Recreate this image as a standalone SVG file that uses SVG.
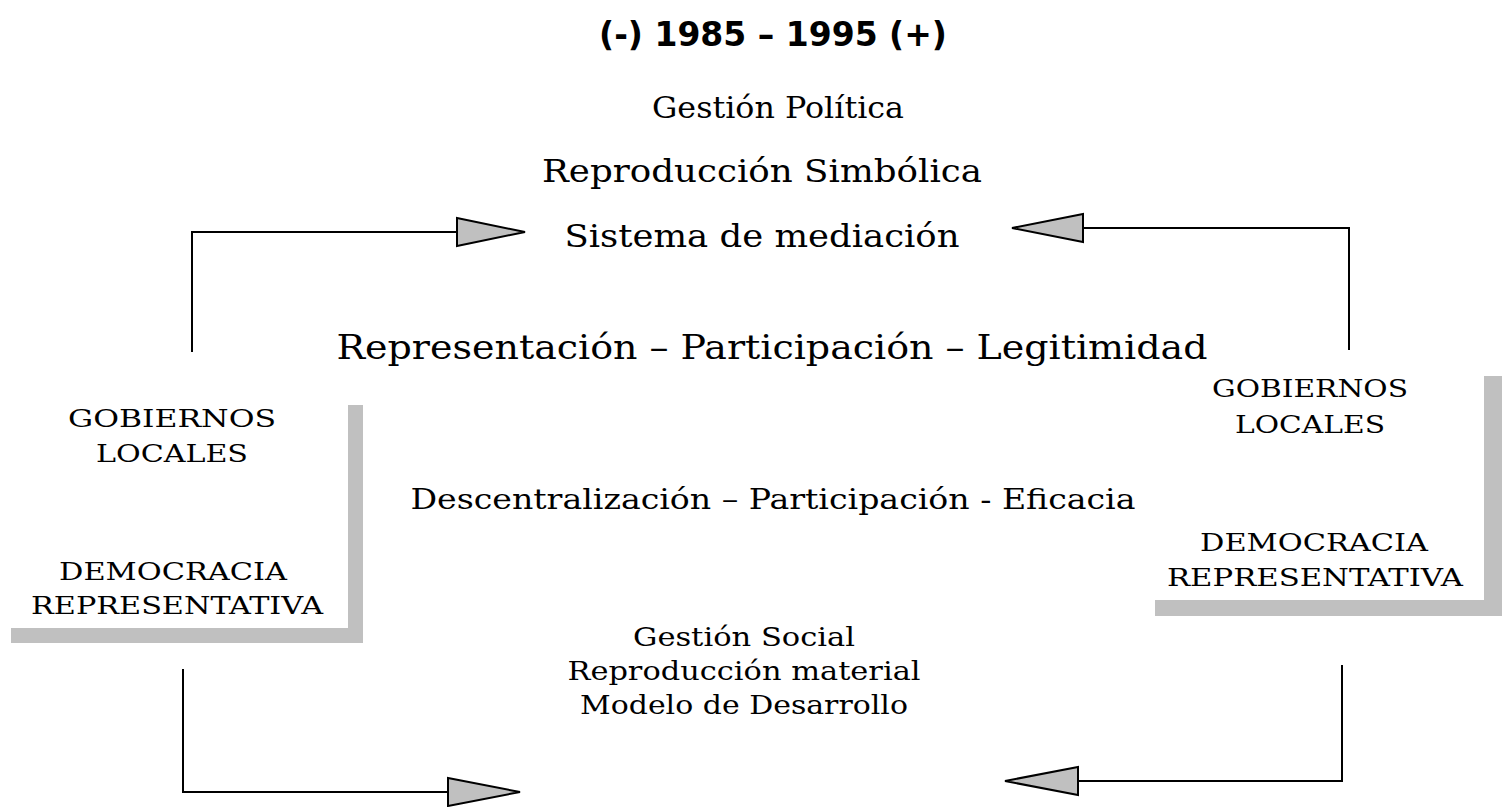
<svg xmlns="http://www.w3.org/2000/svg" width="1506" height="807" viewBox="0 0 1506 807">
<style>
.t{font-family:"DejaVu Serif","Liberation Serif",serif;fill:#000;text-anchor:middle}
.big{font-size:31px}
.gp{font-size:29px}
.leg{font-size:34px}
.mid{font-size:27px}
.sm{font-size:26px}
.box{font-size:25px}
.cond{font-family:"DejaVu Serif Condensed","DejaVu Serif",serif}
.title{font-family:"DejaVu Sans","Verdana",sans-serif;font-weight:bold;font-size:33px;text-anchor:middle}
.ln{fill:none;stroke:#000;stroke-width:2}
.ah{fill:#c0c0c0;stroke:#000;stroke-width:2;stroke-linejoin:miter}
.sh{fill:#c0c0c0}
</style>
<rect width="1506" height="807" fill="#fff"/>
<g id="title"><text class="title" x="773" y="46">(-) 1985 – 1995 (+)</text></g>
<g id="top">
<text class="t gp" x="778" y="118" textLength="252" lengthAdjust="spacingAndGlyphs">Gestión Política</text>
<text class="t big" x="762" y="182" textLength="440" lengthAdjust="spacingAndGlyphs">Reproducción Simbólica</text>
<text class="t big" x="762" y="247" textLength="395" lengthAdjust="spacingAndGlyphs">Sistema de mediación</text>
</g>
<g id="legit"><text class="t leg cond" x="772" y="359" textLength="871" lengthAdjust="spacingAndGlyphs">Representación – Participación – Legitimidad</text></g>
<g id="desc"><text class="t mid cond" x="773" y="509" textLength="725" lengthAdjust="spacingAndGlyphs">Descentralización – Participación - Eficacia</text></g>
<g id="bottom">
<text class="t sm" x="744" y="646" textLength="222" lengthAdjust="spacingAndGlyphs">Gestión Social</text>
<text class="t sm" x="744" y="680" textLength="353" lengthAdjust="spacingAndGlyphs">Reproducción material</text>
<text class="t sm" x="744" y="714" textLength="328" lengthAdjust="spacingAndGlyphs">Modelo de Desarrollo</text>
</g>
<g id="left-box">
<rect class="sh" x="348" y="405" width="15" height="238"/>
<rect class="sh" x="11" y="628" width="352" height="15"/>
<text class="t box" x="172" y="427" textLength="208" lengthAdjust="spacingAndGlyphs">GOBIERNOS</text>
<text class="t box" x="172" y="462" textLength="152" lengthAdjust="spacingAndGlyphs">LOCALES</text>
<text class="t box" x="173" y="580" textLength="228" lengthAdjust="spacingAndGlyphs">DEMOCRACIA</text>
<text class="t box" x="177" y="614" textLength="292" lengthAdjust="spacingAndGlyphs">REPRESENTATIVA</text>
</g>
<g id="right-box">
<rect class="sh" x="1484" y="376" width="18" height="240"/>
<rect class="sh" x="1155" y="600" width="347" height="16"/>
<text class="t box" x="1310" y="397" textLength="196" lengthAdjust="spacingAndGlyphs">GOBIERNOS</text>
<text class="t box" x="1310" y="433" textLength="150" lengthAdjust="spacingAndGlyphs">LOCALES</text>
<text class="t box" x="1314" y="551" textLength="228" lengthAdjust="spacingAndGlyphs">DEMOCRACIA</text>
<text class="t box" x="1315" y="586" textLength="296" lengthAdjust="spacingAndGlyphs">REPRESENTATIVA</text>
</g>
<g id="connectors">
<polyline class="ln" points="192,352 192,232 457,232"/>
<polygon class="ah" points="457,218 457,246 525,232"/>
<polyline class="ln" points="1349,350 1349,228 1083,228"/>
<polygon class="ah" points="1083,214 1083,242 1012,228"/>
<polyline class="ln" points="183,669 183,792 448,792"/>
<polygon class="ah" points="448,778 448,806 520,792"/>
<polyline class="ln" points="1342,665 1342,781 1078,781"/>
<polygon class="ah" points="1078,767 1078,795 1005,781"/>
</g>
</svg>
